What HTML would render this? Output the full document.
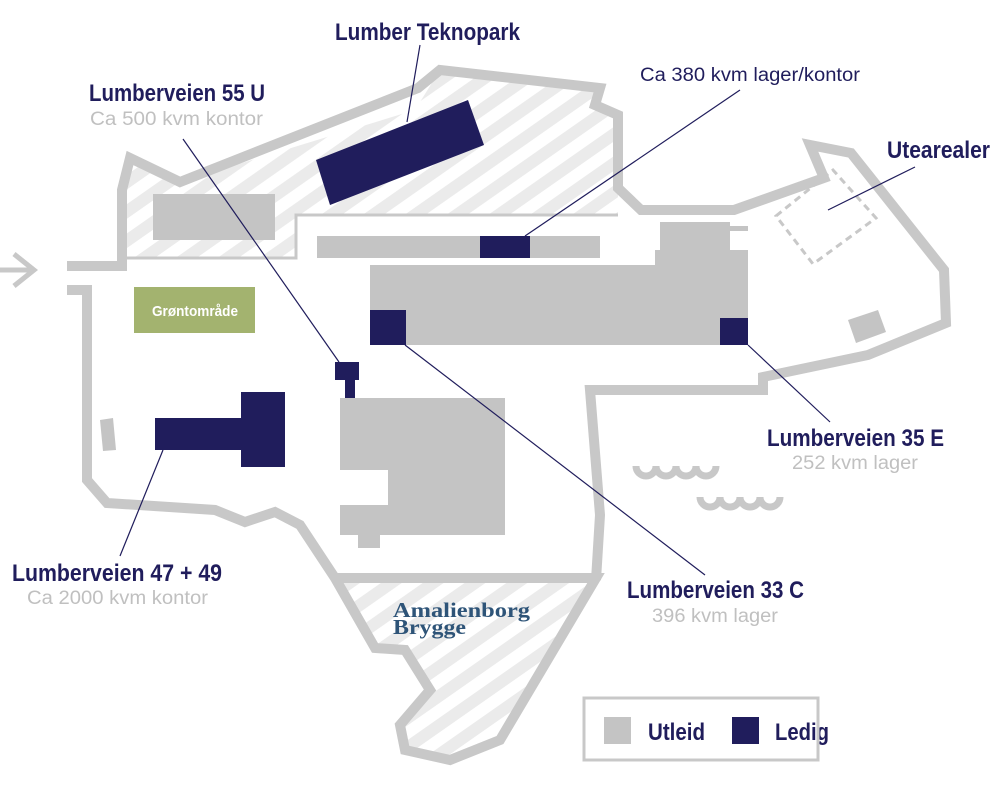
<!DOCTYPE html>
<html><head><meta charset="utf-8"><style>
html,body{margin:0;padding:0;background:#fff;}
svg{display:block;}
.b{font-family:"Liberation Sans",sans-serif;font-weight:bold;fill:#201d5c;}
.g{font-family:"Liberation Sans",sans-serif;fill:#c0c0c0;}
</style></head><body>
<svg width="1000" height="790" viewBox="0 0 1000 790" xmlns="http://www.w3.org/2000/svg">
<defs>
<pattern id="h" patternUnits="userSpaceOnUse" width="24" height="24" patternTransform="rotate(-35)">
<rect width="24" height="24" fill="#fff"/><rect width="24" height="12" fill="#ebebeb"/>
</pattern>
</defs>
<polygon points="122,258 296,258 296,215 618,215 618,115 595,105 600,88 440,70 415,110 180,182 130,158 122,190" fill="url(#h)"/>
<polygon points="335,578 595,578 500,740 450,760 405,750 400,725 430,690 405,650 375,648" fill="url(#h)"/>
<g fill="none" stroke="#c8c8c8" stroke-width="10" stroke-linejoin="miter">
<polyline points="67,266 122,266 122,190 130,158 180,182 418,88 440,70 600,88 595,105 618,115 618,188 641,210 734,210 824,178 810,145 851,153 944,270 946,323 868,355 763,377 763,390 590,390 600,515 596,580"/>
<polyline points="67,290 87,290 87,480 107,503 215,510 245,522 275,512 300,525 335,578 596,578 500,740 450,760 405,750 400,725 430,690 405,650 375,648 335,578" />
</g>
<polyline points="122,258 296,258 296,215 618,215" fill="none" stroke="#c8c8c8" stroke-width="3"/>
<g fill="none" stroke="#c8c8c8" stroke-width="5"><polyline points="14,254 34,270 14,286"/><line x1="0" y1="270" x2="34" y2="270"/></g>
<g fill="#c4c4c4">
<rect x="153" y="194" width="122" height="46"/>
<rect x="317" y="236" width="283" height="22"/>
<rect x="370" y="265" width="378" height="80"/>
<rect x="660" y="222" width="70" height="45"/>
<rect x="655" y="250" width="93" height="20"/>
<rect x="730" y="226" width="18" height="5"/>
<polygon points="340,398 505,398 505,535 380,535 380,548 358,548 358,535 340,535 340,505 388,505 388,470 340,470"/>
<polygon points="100,420 113,418 116,450 103,451"/>
<polygon points="848,320 878,310 886,332 856,343"/>
</g>
<rect x="134" y="287" width="121" height="46" fill="#a3b36f"/>
<text x="152" y="316" textLength="86" lengthAdjust="spacingAndGlyphs" class="b" style="fill:#fff;font-size:15px">Grøntområde</text>
<polygon points="776,216 833,170 876,218 813,264" fill="none" stroke="#c8c8c8" stroke-width="3" stroke-dasharray="7,5"/>
<g fill="#201d5c">
<polygon points="316,160 468,100 484,145 330,205"/>
<rect x="480" y="236" width="50" height="22"/>
<rect x="370" y="310" width="36" height="35"/>
<rect x="720" y="318" width="28" height="27"/>
<rect x="335" y="362" width="24" height="18"/>
<rect x="345" y="380" width="10" height="18"/>
<rect x="155" y="418" width="90" height="32"/>
<rect x="241" y="392" width="44" height="75"/>
</g>
<g fill="none" stroke="#c8c8c8" stroke-width="7">
<path d="M636,466 a10,10 0 0 0 20,0 a10,10 0 0 0 20,0 a10,10 0 0 0 20,0 a10,10 0 0 0 20,0"/>
<path d="M700,497 a10,10 0 0 0 20,0 a10,10 0 0 0 20,0 a10,10 0 0 0 20,0 a10,10 0 0 0 20,0"/>
</g>
<g stroke="#201d5c" stroke-width="1.2">
<line x1="420" y1="45" x2="407" y2="122"/>
<line x1="740" y1="90" x2="525" y2="236"/>
<line x1="915" y1="167" x2="828" y2="210"/>
<line x1="183" y1="139" x2="339" y2="362"/>
<line x1="405" y1="345" x2="705" y2="575"/>
<line x1="748" y1="345" x2="830" y2="422"/>
<line x1="163" y1="450" x2="120" y2="556"/>
</g>
<g style="font-size:24px" lengthAdjust="spacingAndGlyphs">
<text x="335" y="40" textLength="185" lengthAdjust="spacingAndGlyphs" class="b">Lumber Teknopark</text>
<text x="89" y="101" textLength="176" lengthAdjust="spacingAndGlyphs" class="b">Lumberveien 55 U</text>
<text x="887" y="158" textLength="103" lengthAdjust="spacingAndGlyphs" class="b">Utearealer</text>
<text x="767" y="446" textLength="177" lengthAdjust="spacingAndGlyphs" class="b">Lumberveien 35 E</text>
<text x="627" y="598" textLength="177" lengthAdjust="spacingAndGlyphs" class="b">Lumberveien 33 C</text>
<text x="12" y="581" textLength="210" lengthAdjust="spacingAndGlyphs" class="b">Lumberveien 47 + 49</text>
<text x="648" y="740" textLength="57" lengthAdjust="spacingAndGlyphs" class="b">Utleid</text>
<text x="775" y="740" textLength="54" lengthAdjust="spacingAndGlyphs" class="b">Ledig</text>
</g>
<g style="font-size:19px">
<text x="90" y="125" textLength="173" lengthAdjust="spacingAndGlyphs" class="g">Ca 500 kvm kontor</text>
<text x="792" y="469" textLength="126" lengthAdjust="spacingAndGlyphs" class="g">252 kvm lager</text>
<text x="652" y="622" textLength="126" lengthAdjust="spacingAndGlyphs" class="g">396 kvm lager</text>
<text x="27" y="604" textLength="181" lengthAdjust="spacingAndGlyphs" class="g">Ca 2000 kvm kontor</text>
<text x="640" y="81" textLength="220" lengthAdjust="spacingAndGlyphs" style="font-family:'Liberation Sans',sans-serif;fill:#201d5c">Ca 380 kvm lager/kontor</text>
</g>
<g style="font-family:'Liberation Serif',serif;font-weight:bold;font-size:21px;fill:#2e5478">
<text x="393" y="617" textLength="137" lengthAdjust="spacingAndGlyphs">Amalienborg</text>
<text x="393" y="634" textLength="73" lengthAdjust="spacingAndGlyphs">Brygge</text>
</g>
<rect x="584" y="698" width="234" height="62" fill="none" stroke="#c8c8c8" stroke-width="3"/>
<rect x="604" y="717" width="27" height="27" fill="#c4c4c4"/>
<rect x="732" y="717" width="27" height="27" fill="#201d5c"/>
</svg>
</body></html>
